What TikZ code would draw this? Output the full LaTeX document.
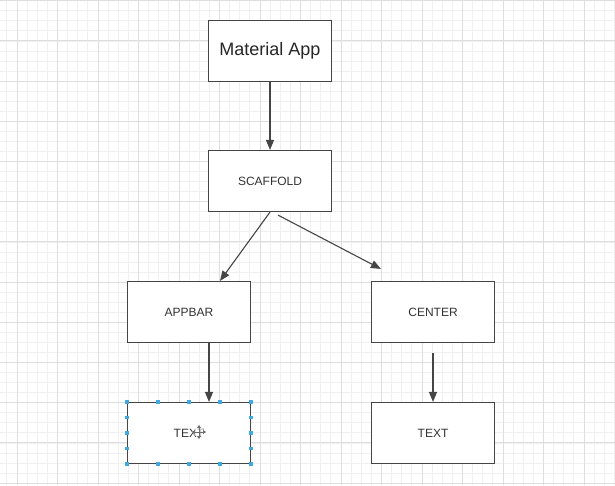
\documentclass[tikz,border=0pt]{standalone}
\usepackage{fontspec}
\setmainfont{Liberation Sans}
\usetikzlibrary{arrows.meta}
\usetikzlibrary{positioning}
\usetikzlibrary{calc}
\definecolor{boxline}{HTML}{454545}
\definecolor{boxtext}{HTML}{333333}
\definecolor{gridminor}{HTML}{F0F0F0}
\definecolor{gridmajor}{HTML}{DEDEDE}
\definecolor{handle}{HTML}{3FA9E0}
\tikzstyle{block}=[rectangle,draw=boxline,line width=1.2pt,fill=white,minimum width=123pt,minimum height=61pt,inner sep=0pt,text=boxtext,font=\fontsize{12}{14}\selectfont]
\tikzstyle{bigblock}=[block,font=\fontsize{18}{21}\selectfont,text=black!85]
\tikzstyle{edge} = [draw,line width=1.1pt,boxline,-{Triangle[length=10pt,width=8pt]}]
\tikzstyle{minorline} = [draw=gridminor,line width=0.8pt]
\tikzstyle{majorline} = [draw=gridmajor,line width=0.9pt]
\tikzstyle{grip} = [rectangle,fill=handle,minimum size=3.5pt,inner sep=0pt]

\begin{document}
\begin{tikzpicture}[x=1pt,y=-1pt]

  \useasboundingbox (0,0) rectangle (615,485);
  \fill[white] (0,0) rectangle (615,485);

  % grid
  \foreach \k in {-1,...,59}
     \draw[minorline] ({17+\k*10.125},0) -- ++(0,485);
  \foreach \k in {0,...,48}
     \draw[minorline] (0,{0.7+\k*10.05}) -- ++(615,0);
  \foreach \k in {0,...,14}
     \draw[majorline] ({17+\k*40.5},0) -- ++(0,485);
  \foreach \k in {0,...,12}
     \draw[majorline] (0,{0.7+\k*40.2}) -- ++(615,0);

  % boxes
  \node[bigblock] (app) at (270,51) {Material App};

  \foreach \x/\y/\name/\label in {270/181/scaffold/SCAFFOLD, 189/312/appbar/APPBAR, 433/312/center/CENTER, 189/433/textA/TEXT, 433/433/textB/TEXT}
          \node[block] (\name) at (\x,\y) {\label};

  \coordinate (fork) at ([xshift=8pt,yshift=-3pt]scaffold.south);
  \coordinate (tipB) at ([xshift=10pt,yshift=12pt]center.north west);
  \coordinate (tailC) at ([yshift=-10pt]center.south);

  \path[edge] (app) -- (scaffold);
  \path[edge] (scaffold.south) -- ([xshift=31pt]appbar.north);
  \path[edge] (fork) -- (tipB);
  \path[edge] ([xshift=20pt]appbar.south) -- ([xshift=20pt]textA.north);
  \path[edge] (tailC) -- (textB.north);

  % selection handles
  \foreach \p in {0,0.25,0.5,0.75,1}
  {
     \node[grip] at ($(textA.north west)!\p!(textA.north east)$) {};
     \node[grip] at ($(textA.south west)!\p!(textA.south east)$) {};
     \node[grip] at ($(textA.north west)!\p!(textA.south west)$) {};
     \node[grip] at ($(textA.north east)!\p!(textA.south east)$) {};
  }

  % move cursor
  \fill[white,opacity=0.7] (199,425) -- (206,432) -- (199,439) -- (192,432) -- cycle;
  \draw[boxline!80,line width=0.7pt,{Triangle[length=3pt,width=4pt]}-{Triangle[length=3pt,width=4pt]}] (192,432) -- (206,432);
  \draw[boxline!80,line width=0.7pt,{Triangle[length=3pt,width=4pt]}-{Triangle[length=3pt,width=4pt]}] (199,425) -- (199,439);

\end{tikzpicture}
\end{document}
